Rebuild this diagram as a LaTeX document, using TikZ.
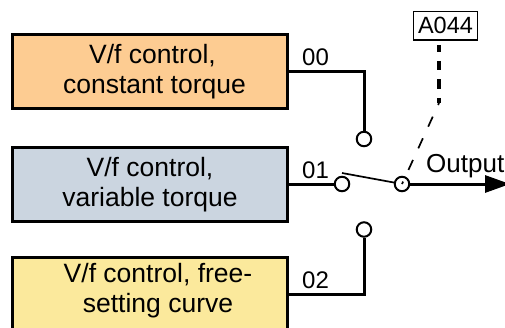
\documentclass[tikz,border=0pt]{standalone}
\usepackage{fontspec}
\setmainfont{Liberation Sans}
\definecolor{orng}{HTML}{FDCC92}
\definecolor{slate}{HTML}{CBD5E0}
\definecolor{yell}{HTML}{FBE99C}
\usetikzlibrary{arrows.meta,positioning,calc}
\tikzset{
  >={Stealth[length=25pt,width=17pt,inset=0pt]},
  mode/.style={draw=black,line width=3pt,outer sep=0pt,minimum width=275pt,minimum height=74pt,inner sep=0pt,align=center,font=\fontsize{26.5}{30}\selectfont},
  term/.style={circle,draw=black,fill=white,line width=2pt,minimum size=14.5pt,inner sep=0pt},
  lab/.style={font=\fontsize{24}{28}\selectfont,inner sep=0pt},
  wire/.style={draw=black,line width=3pt},
  param/.style={draw=black,line width=1.7pt,inner sep=0pt,minimum width=64pt,minimum height=28.5pt,font=\fontsize{23.5}{26}\selectfont},
}
\begin{document}
\begin{tikzpicture}[x=1pt,y=-1pt]
\useasboundingbox (0,0) rectangle (505,327);
\clip (0,0) rectangle (505,327);
\node[mode,fill=orng] (constant) at (150,71.5) {\hspace*{5pt}V/f control,\\\hspace*{9pt}constant torque};
\node[mode,fill=slate] (variable) at (150,184.5) {V/f control,\\variable torque};
\node[mode,fill=yell,anchor=north] (free) at (150,257.5) {};
\node[align=center,inner sep=0pt,font=\fontsize{26.5}{30}\selectfont] (freetext) at (158,291) {V/f control, free-\\setting curve};
% switch contacts
\node[term] (t00) at (364,139) {};
\node[term] (t01) at (342,184) {};
\node[term] (t02) at (364,229.5) {};
\node[term] (pivot) at (402,184) {};
\coordinate (armend) at (342,173);
\coordinate (bend) at (439,103);
\coordinate (out) at (510,184);
\draw[wire] (constant.east |- 0,71.5) -- (364,71.5) -- (t00);
\draw[wire] (variable.east |- t01) -- (t01);
\draw[wire] (free.east |- 0,294) -- (364,294) -- (t02);
\draw[wire,->] (pivot) -- (out);
\draw[black,line width=1.7pt] (armend) -- (pivot);
\node[param] (a044) at (445.5,25.7) {A044};
\draw[black,line width=3.2pt,dash pattern=on 9.5pt off 9pt,dash phase=2.5pt] (a044.south -| bend) ++(0,4) -- (bend);
\draw[black,line width=1.7pt,dash pattern=on 11pt off 12.8pt,dash phase=8.8pt] (bend) -- (pivot.center);
\node[lab,anchor=base west] (l00) at (302,65) {00};
\node[lab,anchor=base west] (l01) at (302,178) {01};
\node[lab,anchor=base west] (l02) at (302,288) {02};
\node[font=\fontsize{26}{30}\selectfont,inner sep=0pt,anchor=base west] (lout) at (426,172) {Output};
\end{tikzpicture}
\end{document}
